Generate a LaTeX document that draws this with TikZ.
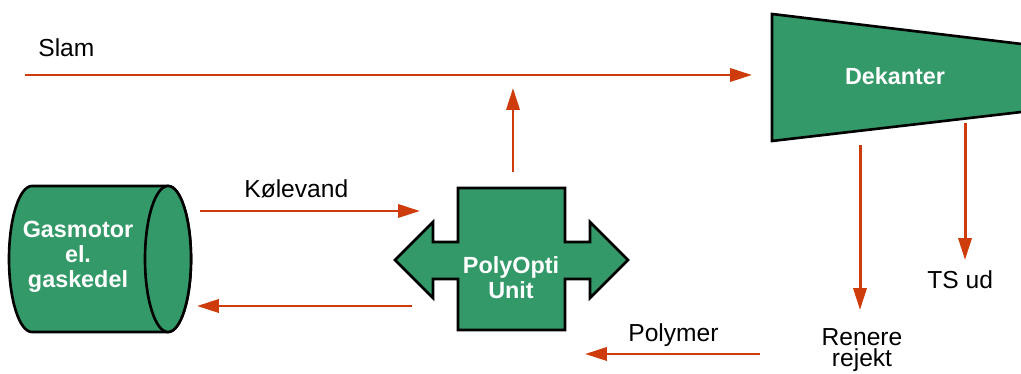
\documentclass[tikz,border=0pt]{standalone}
\usepackage{fontspec}
\setmainfont{Liberation Sans}
\usetikzlibrary{arrows.meta}
\definecolor{plantgreen}{RGB}{52,153,104}
\definecolor{flowred}{RGB}{205,60,10}

\begin{document}
\begin{tikzpicture}[x=0.02cm,y=-0.02cm]
\tikzstyle{stream}=[draw=flowred,line width=1.7pt,-{Triangle[length=12.5pt,width=7.5pt]}]
\tikzstyle{plantbox}=[fill=plantgreen,draw=black,line width=1.5pt]
\tikzstyle{planttext}=[text=white,font=\bfseries\fontsize{13.3}{14.2}\selectfont,align=center,inner sep=0pt]
\tikzstyle{flowtext}=[font=\fontsize{14}{12.5}\selectfont,inner sep=0pt]

\useasboundingbox (0,0) rectangle (1021,374);

% dekanter
\draw[plantbox] (772,14) -- (1030,45) -- (1030,111) -- (772,141) -- cycle;
\node[planttext] (dek) at (895,76) {Dekanter};

% gasmotor
\draw[plantbox] (32,186) -- (168,186) arc[start angle=-90,end angle=90,x radius=23,y radius=73]
  -- (32,332) arc[start angle=90,end angle=270,x radius=23,y radius=73] -- cycle;
\draw[plantbox] (168,259) ellipse[x radius=23,y radius=73];
\node[planttext] (gas) at (78,257) {Gasmotor\\el.\\gaskedel};

% polyopti
\draw[plantbox] (458,188) -- (565,188) -- (565,242) -- (590,242) -- (590,222)
  -- (628,260) -- (590,298) -- (590,279) -- (565,279) -- (565,330) -- (458,330)
  -- (458,279) -- (433,279) -- (433,298) -- (395,260) -- (433,222) -- (433,242)
  -- (458,242) -- cycle;
\node[planttext] (poly) at (511,278) {PolyOpti\\Unit};

% slam
\node[flowtext,anchor=base west] (slam) at (38,57) {Slam};
\coordinate (slamIn) at (25,75);
\coordinate (dekIn) at (752,75);
\draw[stream] (slamIn) -- (dekIn);

\coordinate (polyOut) at (513,172);
\coordinate (slamJoin) at (513,88);
\draw[stream] (polyOut) -- (slamJoin);

% kolevand
\node[flowtext,anchor=base west] (kol) at (244,198) {Kølevand};
\coordinate (kolOut) at (200,211);
\coordinate (kolIn) at (420,211);
\draw[stream] (kolOut) -- (kolIn);
\coordinate (kolBack) at (412,306);
\coordinate (kolRet) at (197,306);
\draw[stream] (kolBack) -- (kolRet);

% dekanter udlob
\coordinate (rejOut) at (860,145);
\coordinate (rejEnd) at (860,310);
\draw[stream] (rejOut) -- (rejEnd);
\node[flowtext,anchor=base,align=center] (rej) at (862,367) {Renere\\rejekt};

\coordinate (tsOut) at (965,123);
\coordinate (tsEnd) at (965,260);
\draw[stream] (tsOut) -- (tsEnd);
\node[flowtext,anchor=base west] (ts) at (927,289) {TS ud};

% polymer
\node[flowtext,anchor=base west] (pol) at (628,342) {Polymer};
\coordinate (polStart) at (760,354);
\coordinate (polEnd) at (585,354);
\draw[stream] (polStart) -- (polEnd);

\end{tikzpicture}
\end{document}
